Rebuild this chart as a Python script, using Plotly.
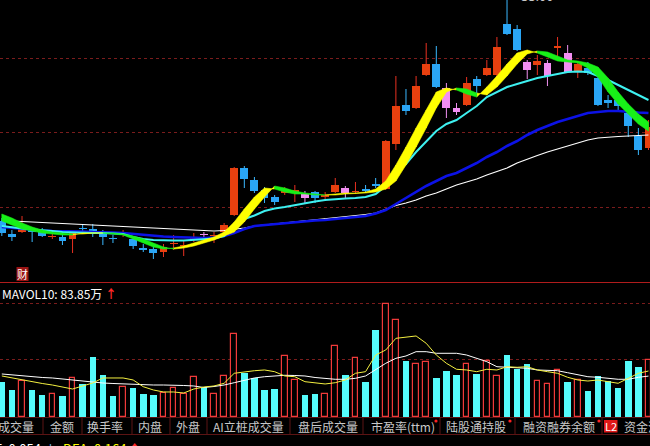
import plotly.graph_objects as go

W, H = 650, 446

# ---------------- data (price in yuan, volume in 万手) ----------------
opens = [24.16, 23.64, 23.72, 23.84, 23.76, 23.52, 23.52, 23.44, 23.88, 23.84,
         23.68, 23.48, 23.64, 23.44, 23.06, 23.04, 22.92, 23.24, 23.16, 23.40,
         23.64, 23.56, 23.72, 24.40, 26.28, 25.80, 25.40, 25.12, 25.28, 25.34,
         25.24, 25.32, 25.14, 25.32, 25.48, 25.32, 25.42, 25.62, 25.44, 27.24,
         28.80, 28.68, 30.00, 30.44, 29.48, 28.68, 28.80, 29.84, 30.00, 30.00,
         32.04, 31.84, 30.52, 30.40, 30.48, 31.10, 30.88, 30.16, 30.28, 29.88,
         29.00, 29.00, 28.48, 27.56, 27.08]
highs = [24.28, 23.80, 24.36, 23.88, 23.88, 23.68, 23.60, 23.72, 24.00, 24.04,
         23.80, 23.60, 23.80, 23.52, 23.24, 23.12, 23.24, 23.60, 23.40, 23.68,
         23.72, 23.72, 24.08, 26.32, 26.36, 25.92, 25.52, 25.20, 25.52, 25.60,
         25.36, 25.36, 25.32, 25.88, 25.56, 25.72, 25.60, 25.88, 27.40, 29.96,
         29.44, 29.96, 31.28, 31.16, 29.68, 28.88, 29.92, 29.96, 30.60, 31.52,
         33.00, 32.00, 30.60, 30.80, 30.60, 31.52, 31.20, 30.56, 30.52, 30.00,
         29.20, 29.04, 28.68, 27.88, 28.20]
lows = [23.56, 23.36, 23.68, 23.32, 23.52, 23.44, 23.20, 22.88, 23.72, 23.52,
        23.20, 23.28, 23.52, 23.04, 22.92, 22.64, 22.72, 23.00, 22.76, 23.32,
        23.52, 23.28, 23.68, 24.36, 25.48, 25.28, 24.88, 24.80, 25.20, 24.92,
        24.88, 24.88, 25.00, 25.28, 25.08, 25.28, 25.28, 25.48, 25.40, 27.00,
        28.40, 28.64, 29.96, 29.48, 28.28, 28.40, 28.76, 29.28, 29.96, 29.96,
        31.60, 30.96, 29.84, 30.00, 29.56, 30.60, 30.08, 29.88, 30.00, 28.76,
        28.68, 28.60, 27.52, 26.80, 27.00]
closes = [23.68, 23.52, 23.88, 23.72, 23.56, 23.56, 23.36, 23.68, 23.84, 23.76,
          23.52, 23.44, 23.68, 23.16, 23.02, 22.88, 23.12, 23.28, 23.20, 23.52,
          23.60, 23.60, 24.00, 26.28, 25.84, 25.36, 25.08, 24.92, 25.44, 25.38,
          25.08, 25.08, 25.20, 25.60, 25.28, 25.36, 25.38, 25.58, 27.36, 28.76,
          28.56, 29.56, 30.44, 29.52, 28.68, 28.52, 29.68, 29.56, 30.28, 31.12,
          31.64, 31.00, 30.20, 30.56, 29.96, 31.16, 30.12, 30.44, 30.08, 28.80,
          28.88, 28.76, 27.96, 27.00, 27.92]
pink_days = [20, 30, 34, 44, 45, 52, 54, 56]

ma_cyan = [23.96, 23.90, 23.86, 23.82, 23.80, 23.76, 23.72, 23.70, 23.70, 23.68,
           23.68, 23.66, 23.64, 23.52, 23.44, 23.40, 23.38, 23.38, 23.38, 23.40,
           23.42, 23.46, 23.56, 23.96, 24.24, 24.38, 24.56, 24.66, 24.72, 24.80,
           24.88, 24.94, 25.00, 25.04, 25.06, 25.08, 25.12, 25.24, 25.56, 26.08,
           26.44, 26.92, 27.36, 27.76, 28.04, 28.20, 28.48, 28.76, 29.12, 29.32,
           29.52, 29.64, 29.76, 29.88, 29.96, 30.04, 30.12, 30.14, 30.12, 29.96,
           29.80, 29.60, 29.40, 29.20, 29.00]
ma_blue = [23.92, 23.88, 23.84, 23.80, 23.78, 23.76, 23.76, 23.74, 23.74, 23.72,
           23.72, 23.70, 23.68, 23.64, 23.60, 23.56, 23.54, 23.52, 23.50, 23.48,
           23.48, 23.50, 23.56, 23.68, 23.84, 23.96, 24.00, 24.04, 24.08, 24.12,
           24.14, 24.18, 24.20, 24.24, 24.28, 24.32, 24.36, 24.46, 24.60, 24.84,
           25.08, 25.32, 25.56, 25.76, 25.96, 26.08, 26.28, 26.48, 26.72, 26.92,
           27.16, 27.36, 27.60, 27.80, 27.96, 28.12, 28.24, 28.36, 28.48, 28.52,
           28.56, 28.56, 28.52, 28.50, 28.48]
ma_white = [24.18, 24.16, 24.15, 24.13, 24.12, 24.10, 24.08, 24.06, 24.04, 24.02,
            24.00, 23.98, 23.96, 23.94, 23.90, 23.88, 23.86, 23.84, 23.82, 23.80,
            23.78, 23.76, 23.78, 23.82, 23.88, 23.96, 24.00, 24.04, 24.08, 24.12,
            24.18, 24.22, 24.26, 24.30, 24.34, 24.38, 24.42, 24.48, 24.64, 24.78,
            24.88, 25.00, 25.16, 25.28, 25.44, 25.60, 25.72, 25.84, 26.00, 26.14,
            26.28, 26.48, 26.64, 26.78, 26.92, 27.04, 27.16, 27.28, 27.40, 27.48,
            27.52, 27.54, 27.56, 27.58, 27.60]
rib_fast = [24.16, 24.00, 23.84, 23.76, 23.68, 23.64, 23.60, 23.60, 23.68, 23.68,
            23.68, 23.64, 23.60, 23.44, 23.28, 23.12, 23.04, 23.08, 23.16, 23.28,
            23.40, 23.52, 23.72, 24.12, 24.64, 25.12, 25.48, 25.44, 25.32, 25.24,
            25.24, 25.20, 25.20, 25.24, 25.28, 25.28, 25.32, 25.44, 25.76, 26.40,
            27.12, 27.88, 28.60, 29.32, 29.48, 29.40, 29.24, 29.12, 29.52, 29.96,
            30.44, 30.88, 31.00, 30.88, 30.72, 30.56, 30.52, 30.48, 30.28, 29.92,
            29.32, 28.84, 28.44, 28.04, 27.76]
rib_slow = [24.44, 24.28, 24.08, 23.92, 23.80, 23.72, 23.68, 23.64, 23.64, 23.68,
            23.68, 23.68, 23.64, 23.56, 23.44, 23.28, 23.12, 23.04, 23.08, 23.16,
            23.28, 23.40, 23.56, 23.72, 24.12, 24.64, 25.12, 25.56, 25.48, 25.36,
            25.28, 25.24, 25.20, 25.20, 25.24, 25.26, 25.28, 25.32, 25.44, 25.76,
            26.40, 27.12, 27.88, 28.68, 29.32, 29.48, 29.44, 29.28, 29.20, 29.52,
            29.96, 30.44, 30.84, 30.96, 30.92, 30.76, 30.60, 30.56, 30.48, 30.32,
            29.88, 29.32, 28.84, 28.44, 28.12]

volume = [71.8, 55.4, 73.8, 55.4, 45.1, 47.2, 43.1, 80.0, 67.7, 123.0,
          86.1, 43.1, 61.5, 59.5, 47.2, 45.1, 49.2, 59.5, 47.2, 82.0,
          61.5, 47.2, 84.1, 170.2, 90.2, 80.0, 55.4, 57.4, 125.0, 75.9,
          45.1, 47.2, 47.2, 145.6, 86.1, 121.0, 71.8, 178.4, 231.7, 198.9,
          114.8, 108.7, 112.8, 80.0, 94.3, 86.1, 108.7, 88.2, 114.8, 84.1,
          127.1, 98.4, 108.7, 73.8, 67.7, 96.4, 71.8, 75.9, 53.3, 84.1,
          73.8, 59.5, 114.8, 102.5, 116.9]
vol_dir = ("CCRCCRCRCC" "CCRCCCRRRR" "CRRRCCCCRR" "CCRRCRCCRR"
           "CRRCCCRCRR" "CCCRRRCRCC" "CCCCR")
vol_ma5 = [84.1, 80.0, 75.9, 72.4, 68.7, 65.6, 61.5, 57.4, 63.6, 69.7,
           80.0, 80.0, 80.0, 75.9, 62.1, 55.4, 51.3, 51.3, 49.2, 57.4,
           61.5, 63.6, 69.1, 89.6, 92.9, 94.9, 96.4, 92.9, 84.1, 82.6,
           72.4, 70.3, 67.7, 70.3, 75.9, 89.6, 92.9, 127.1, 137.4, 161.3,
           163.4, 166.1, 151.1, 127.1, 110.1, 97.8, 96.4, 92.9, 97.8, 96.4,
           103.1, 101.9, 103.1, 96.4, 92.9, 89.6, 81.4, 75.9, 73.8, 75.9,
           72.4, 69.1, 79.3, 89.6, 94.3]
vol_ma10 = [88.2, 86.1, 84.1, 82.0, 81.0, 80.0, 77.9, 75.9, 72.4, 70.7,
            69.7, 68.7, 67.7, 66.6, 65.6, 65.6, 65.6, 65.6, 64.6, 63.6,
            60.5, 62.5, 65.6, 70.3, 75.9, 80.0, 82.6, 84.1, 85.5, 85.1,
            84.1, 81.0, 78.5, 77.3, 77.3, 79.3, 84.1, 96.4, 110.1, 120.3,
            125.1, 133.9, 133.9, 130.6, 130.6, 130.6, 127.1, 120.3, 113.4, 103.1,
            101.9, 99.8, 99.8, 96.4, 96.4, 94.9, 90.8, 86.1, 82.6, 81.4,
            79.3, 77.3, 77.3, 81.4, 83.85]

high_label = "33.00"
mavol_label = "MAVOL10: 83.85万"
tabs = ["成交量", "金额", "换手率", "内盘", "外盘", "AI立桩成交量", "盘后成交量",
        "市盈率(ttm)", "陆股通持股", "融资融券余额", "资金流向"]

n = len(closes)
for arr in (opens, highs, lows, ma_cyan, ma_blue, ma_white, rib_fast, rib_slow,
            volume, vol_ma5, vol_ma10):
    assert len(arr) == n, len(arr)
assert len(vol_dir) == n
idx = list(range(n))

# ---------------- helpers ----------------
def px(x):
    return x / W

def py(y):
    return 1 - y / H

FONT = "Noto Sans CJK SC, Microsoft YaHei, sans-serif"
RED_BODY, RED_WICK = "#e8400f", "#e83020"
CYAN_BODY, CYAN_WICK = "#2aa6f6", "#3ab8ff"
PINK_BODY, PINK_WICK = "#f28ef2", "#f090f0"

fig = go.Figure()

# ---------------- candles ----------------
groups = {"R": ([], RED_BODY, RED_WICK), "C": ([], CYAN_BODY, CYAN_WICK),
          "P": ([], PINK_BODY, PINK_WICK)}
for i in idx:
    if closes[i] >= opens[i]:
        groups["R"][0].append(i)
    elif i in pink_days:
        groups["P"][0].append(i)
    else:
        groups["C"][0].append(i)

for key, (members, bcol, wcol) in groups.items():
    wx, wy = [], []
    for i in members:
        wx += [i, i, None]
        wy += [lows[i], highs[i], None]
    fig.add_trace(go.Scatter(x=wx, y=wy, mode="lines", line=dict(color=wcol, width=1),
                             hoverinfo="skip", xaxis="x", yaxis="y", zorder=0))
    bases, hts = [], []
    for i in members:
        lo, hi = min(opens[i], closes[i]), max(opens[i], closes[i])
        if hi - lo < 0.04:
            mid = (hi + lo) / 2
            lo, hi = mid - 0.02, mid + 0.02
        bases.append(lo)
        hts.append(hi - lo)
    fig.add_trace(go.Bar(x=members, y=hts, base=bases, width=0.78,
                         marker=dict(color=bcol, line=dict(width=0)),
                         hoverinfo="skip", xaxis="x", yaxis="y", zorder=1))

# ---------------- MA lines ----------------
fig.add_trace(go.Scatter(x=idx, y=ma_white, mode="lines", line=dict(color="#ffffff", width=1.2),
                         hoverinfo="skip", xaxis="x", yaxis="y", zorder=2))
fig.add_trace(go.Scatter(x=idx, y=ma_blue, mode="lines", line=dict(color="#0c12e6", width=2.6),
                         hoverinfo="skip", xaxis="x", yaxis="y", zorder=2))
fig.add_trace(go.Scatter(x=idx, y=ma_cyan, mode="lines", line=dict(color="#3ef0f0", width=2),
                         hoverinfo="skip", xaxis="x", yaxis="y", zorder=2))

# ---------------- ribbon ----------------
yx, yy, gx, gy = [], [], [], []
for i in range(n - 1):
    xs = [i, i + 1, i + 1, i, i, None]
    ys = [rib_fast[i], rib_fast[i + 1], rib_slow[i + 1], rib_slow[i], rib_fast[i], None]
    if rib_fast[i] + rib_fast[i + 1] >= rib_slow[i] + rib_slow[i + 1]:
        yx += xs; yy += ys
    else:
        gx += xs; gy += ys
for xs, ys, col in ((yx, yy, "#ffff00"), (gx, gy, "#18f018")):
    fig.add_trace(go.Scatter(x=xs, y=ys, mode="lines", fill="toself", fillcolor=col,
                             line=dict(color=col, width=0.6), hoverinfo="skip",
                             xaxis="x", yaxis="y", zorder=3))

# ---------------- volume ----------------
up_i = [i for i in idx if vol_dir[i] == "R"]
dn_i = [i for i in idx if vol_dir[i] == "C"]
fig.add_trace(go.Bar(x=dn_i, y=[volume[i] for i in dn_i], width=0.64,
                     marker=dict(color="#55fcfc", line=dict(width=0)),
                     hoverinfo="skip", xaxis="x2", yaxis="y2", zorder=0))
fig.add_trace(go.Bar(x=up_i, y=[volume[i] for i in up_i], width=0.56,
                     marker=dict(color="#000000", line=dict(color="#f03a3a", width=1.2)),
                     hoverinfo="skip", xaxis="x2", yaxis="y2", zorder=0))
fig.add_trace(go.Scatter(x=idx, y=vol_ma10, mode="lines", line=dict(color="#ffffff", width=1),
                         hoverinfo="skip", xaxis="x2", yaxis="y2", zorder=2))
fig.add_trace(go.Scatter(x=idx, y=vol_ma5, mode="lines", line=dict(color="#f4f040", width=1),
                         hoverinfo="skip", xaxis="x2", yaxis="y2", zorder=2))

# ---------------- layout ----------------
XR = [-0.18, 64.15]
GRID = "#7a1c1c"
ax_common = dict(showticklabels=False, zeroline=False, showline=False, ticks="")
fig.update_layout(
    width=W, height=H, margin=dict(l=0, r=0, t=0, b=0, pad=0),
    paper_bgcolor="#000000", plot_bgcolor="#000000",
    showlegend=False, barmode="overlay", bargap=0,
    font=dict(family=FONT, color="#d0d0d0", size=12),
    xaxis=dict(range=XR, domain=[0, 1], showgrid=False, **ax_common),
    xaxis2=dict(range=XR, domain=[0, 1], anchor="y2", showgrid=False, **ax_common),
    yaxis=dict(range=[21.72, 33.0], domain=[py(282), 1], showgrid=True,
               tickvals=[24.72, 27.72, 30.68], gridcolor=GRID, griddash="dot", gridwidth=1,
               **ax_common),
    yaxis2=dict(range=[0, 274.7], domain=[py(417), py(283)], anchor="x2", showgrid=True,
                tickvals=[116.9, 233.7], gridcolor=GRID, griddash="dot", gridwidth=1,
                **ax_common),
)

shapes = []
shapes.append(dict(type="line", xref="paper", yref="paper", x0=0, x1=1, y0=py(282.5), y1=py(282.5),
                   line=dict(color="#b01c1c", width=1)))
TAB_LINE = "#5c1414"
shapes.append(dict(type="line", xref="paper", yref="paper", x0=0, x1=1, y0=py(417.5), y1=py(417.5),
                   line=dict(color=TAB_LINE, width=1)))
shapes.append(dict(type="line", xref="paper", yref="paper", x0=0, x1=1, y0=py(434.5), y1=py(434.5),
                   line=dict(color=TAB_LINE, width=1)))
for sx in [43, 82, 132, 170, 207, 290, 363, 440, 515, 602]:
    shapes.append(dict(type="line", xref="paper", yref="paper", x0=px(sx), x1=px(sx),
                       y0=py(418), y1=py(434), line=dict(color=TAB_LINE, width=1)))
for dx in [436, 510, 599]:
    shapes.append(dict(type="circle", xref="paper", yref="paper", x0=px(dx - 1.6), x1=px(dx + 1.6),
                       y0=py(422.6), y1=py(419.4), fillcolor="#ff2020", line=dict(width=0)))
shapes.append(dict(type="rect", xref="paper", yref="paper", x0=px(604), x1=px(617.5),
                   y0=py(432.5), y1=py(420), fillcolor="#e01818", line=dict(width=0)))
shapes.append(dict(type="rect", xref="paper", yref="paper", x0=px(16.5), x1=px(28.5),
                   y0=py(281), y1=py(267), fillcolor="#9a1414", line=dict(width=0)))
fig.update_layout(shapes=shapes)

ann = []
def text(x, y, s, size=12, color="#d0d0d0", xanchor="center"):
    ann.append(dict(xref="paper", yref="paper", x=px(x), y=py(y), text=s, showarrow=False,
                    xanchor=xanchor, yanchor="middle", font=dict(size=size, color=color, family=FONT)))

text(537, -4, high_label, size=13, color="#c8c8c8")
text(22.5, 274, "财", size=11, color="#ffffff")
text(0, 293, mavol_label + " <span style='color:#ff2828'><b>↑</b></span>", size=12,
     color="#ffffff", xanchor="left")

tab_pos = [(35.5, "right"), (61.5, "center"), (105, "center"), (150, "center"), (188, "center"),
           (248, "center"), (327.5, "center"), (402.5, "center"), (476, "center"), (559, "center"),
           (622, "left")]
for (tx, anc), lab in zip(tab_pos, tabs):
    text(tx, 426, lab, size=12, color="#c8c8c8", xanchor=anc)
text(610.8, 426.3, "L2", size=11, color="#ffffff")

text(43, 449, "DIF: 0.054", size=13, color="#ffffff", xanchor="right")
text(50, 449, "↓", size=13, color="#80c0ff")
text(61, 449, "DEA: 0.164", size=13, color="#ffff00", xanchor="left")
text(134, 449, "<b>↑</b>", size=13, color="#ff2828")
fig.update_layout(annotations=ann)

fig.write_html("out.html", config={"displayModeBar": False},
               post_script="document.body.style.margin='0';document.body.style.background='#000';"
                           "document.body.style.overflow='hidden';")
